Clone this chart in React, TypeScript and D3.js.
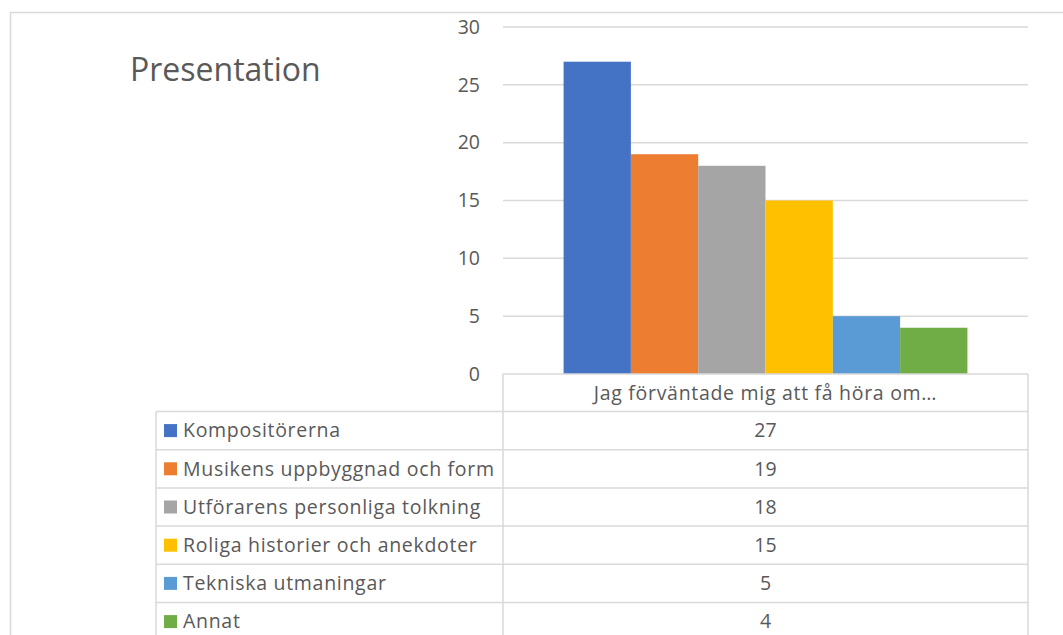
import * as d3 from "d3";

const title = "Presentation";
const category = "Jag förväntade mig att få höra om…";
const seriesNames = [
  "Kompositörerna",
  "Musikens uppbyggnad och form",
  "Utförarens personliga tolkning",
  "Roliga historier och anekdoter",
  "Tekniska utmaningar",
  "Annat",
];
const seriesValues = [27, 19, 18, 15, 5, 4];
const seriesColors = ["#4472C4", "#ED7D31", "#A5A5A5", "#FFC000", "#5B9BD5", "#70AD47"];
const yTicks = [0, 5, 10, 15, 20, 25, 30];

const W = 1063;
const H = 635;
const font = "'Open Sans', 'Noto Sans', sans-serif";
const textColor = "#595959";
const lineColor = "#d9d9d9";
const fs = 19.5;
const ls = 0.7;

export default function App() {
  const plot = { left: 503, right: 1028, top: 27, bottom: 374 };

  const y = d3.scaleLinear().domain([0, 30]).range([plot.bottom, plot.top]);
  const xCat = d3.scaleBand().domain([category]).range([plot.left, plot.right]).paddingInner(0).paddingOuter(0.15);
  const xSeries = d3.scaleBand().domain(seriesNames).range([0, xCat.bandwidth()]).padding(0);

  const legendLeft = 156;
  const headerTop = plot.bottom;
  const rowH = 38.2;
  const rowsTop = headerTop + 37.5;
  const rowY = d3.scaleLinear().domain([0, 1]).range([rowsTop, rowsTop + rowH]);

  return (
    <svg width={W} height={H} style={{ position: "absolute", left: 0, top: 0, background: "#fff" }} fontFamily={font}>
      {/* outer chart frame */}
      <rect x={10.5} y={12.5} width={W + 20} height={H + 20} fill="#fff" stroke={lineColor} strokeWidth={1.5} />

      <text x={130} y={81} fontSize={32} fill={textColor}>{title}</text>

      {/* gridlines + y labels */}
      {yTicks.map((t) => (
        <g key={t}>
          {t > 0 && (
            <line x1={plot.left} x2={plot.right} y1={y(t)} y2={y(t)} stroke={lineColor} strokeWidth={1.5} />
          )}
          <text x={480} y={y(t)} dy="0.35em" textAnchor="end" fontSize={fs} fill={textColor}>{t}</text>
        </g>
      ))}

      {/* bars */}
      {seriesNames.map((s, i) => (
        <rect
          key={s}
          x={(xCat(category) as number) + (xSeries(s) as number)}
          y={y(seriesValues[i])}
          width={xSeries.bandwidth()}
          height={y(0) - y(seriesValues[i])}
          fill={seriesColors[i]}
        />
      ))}

      {/* data table */}
      <g stroke={lineColor} strokeWidth={1.5} fill="none">
        <line x1={plot.left} x2={plot.right} y1={headerTop} y2={headerTop} />
        <line x1={plot.left} x2={plot.left} y1={headerTop} y2={H} />
        <line x1={plot.right} x2={plot.right} y1={headerTop} y2={H} />
        <line x1={legendLeft} x2={legendLeft} y1={rowsTop} y2={H} />
        {seriesNames.map((s, i) => (
          <line key={s} x1={legendLeft} x2={plot.right} y1={rowY(i)} y2={rowY(i)} />
        ))}
      </g>
      <text x={(plot.left + plot.right) / 2} y={(headerTop + rowsTop) / 2} dy="0.35em" textAnchor="middle" fontSize={fs} letterSpacing={ls} fill={textColor}>
        {category}
      </text>
      {seriesNames.map((s, i) => {
        const cy = rowY(i + 0.5);
        return (
          <g key={s}>
            <rect x={164} y={cy - 6.5} width={13} height={13} fill={seriesColors[i]} />
            <text x={183} y={cy} dy="0.35em" fontSize={fs} letterSpacing={ls} fill={textColor}>{s}</text>
            <text x={(plot.left + plot.right) / 2} y={cy} dy="0.35em" textAnchor="middle" fontSize={fs} fill={textColor}>
              {seriesValues[i]}
            </text>
          </g>
        );
      })}
    </svg>
  );
}
